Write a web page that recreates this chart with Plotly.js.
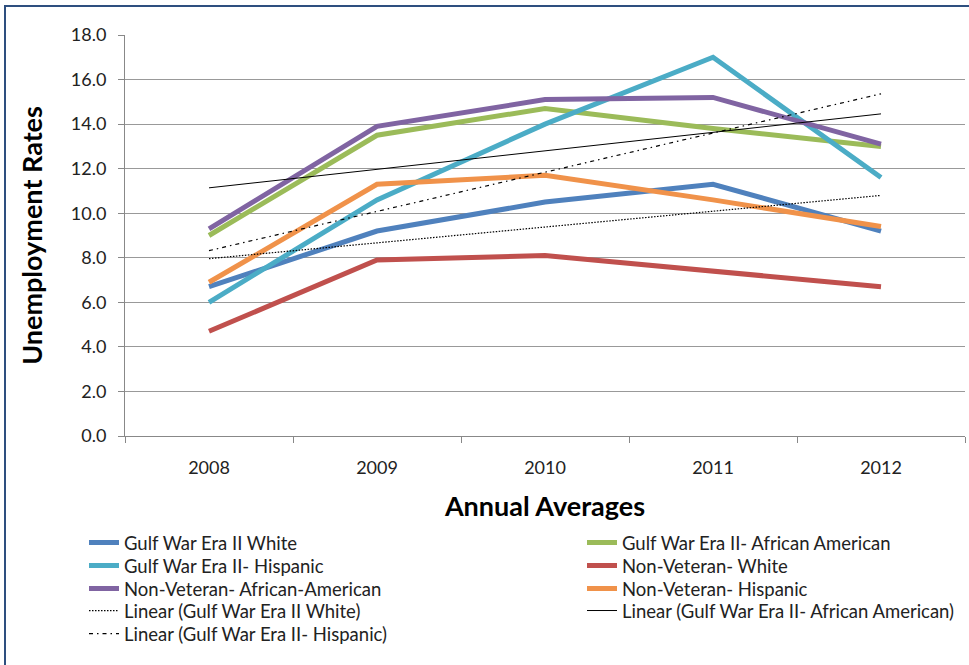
<!DOCTYPE html>
<html>
<head>
<meta charset="utf-8">
<script src="https://cdn.plot.ly/plotly-3.0.1.min.js"></script>
<style>
  html, body { margin: 0; padding: 0; background: #fff; }
  #chart { position: absolute; left: 0; top: 0; width: 969px; height: 665px; }
  #frame { position: absolute; left: 4px; top: 5px; width: 970px; height: 670px;
           border-left: 2px solid #2e4f7f; border-top: 2px solid #2e4f7f; pointer-events: none; }
</style>
</head>
<body>
<div id="chart"></div>
<div id="frame"></div>
<script>
// Annual average unemployment rates (%)
const years = ['2008', '2009', '2010', '2011', '2012'];

const gwWhite      = [6.7, 9.2, 10.5, 11.3, 9.2];
const gwAfricanAm  = [9.0, 13.5, 14.7, 13.8, 13.0];
const gwHispanic   = [6.0, 10.6, 14.0, 17.0, 11.6];
const nvWhite      = [4.7, 7.9, 8.1, 7.4, 6.7];
const nvAfricanAm  = [9.3, 13.9, 15.1, 15.2, 13.1];
const nvHispanic   = [6.9, 11.3, 11.7, 10.6, 9.4];

const yTicks = [0, 2, 4, 6, 8, 10, 12, 14, 16, 18];

// least-squares straight line through a series, evaluated at each year index
function linearFit(vals) {
  const n = vals.length;
  const xs = vals.map((_, i) => i + 1);
  const mx = xs.reduce((a, b) => a + b, 0) / n;
  const my = vals.reduce((a, b) => a + b, 0) / n;
  let sxy = 0, sxx = 0;
  for (let i = 0; i < n; i++) { sxy += (xs[i] - mx) * (vals[i] - my); sxx += (xs[i] - mx) ** 2; }
  const slope = sxy / sxx;
  return xs.map(x => my + slope * (x - mx));
}

const font = 'Lato, "Open Sans", sans-serif';

function series(name, y, color) {
  return { type: 'scatter', mode: 'lines', name, x: years, y,
           line: { color, width: 5 }, hoverinfo: 'name+y' };
}
function trend(name, y, dash, width) {
  return { type: 'scatter', mode: 'lines', name, x: years, y,
           line: { color: '#000', width, dash }, hoverinfo: 'name+y' };
}

const traces = [
  series('Gulf War Era II White', gwWhite, '#4f81bd'),
  series('Gulf War Era II- African American', gwAfricanAm, '#9bbb59'),
  series('Gulf War Era II- Hispanic', gwHispanic, '#4bacc6'),
  series('Non-Veteran- White', nvWhite, '#c0504d'),
  series('Non-Veteran- African-American', nvAfricanAm, '#8064a2'),
  series('Non-Veteran- Hispanic', nvHispanic, '#f0924a'),
  trend('Linear (Gulf War Era II White)', linearFit(gwWhite), '1.5px,1.5px', 1.2),
  trend('Linear (Gulf War Era II- African American)', linearFit(gwAfricanAm), 'solid', 1),
  trend('Linear (Gulf War Era II- Hispanic)', linearFit(gwHispanic), '4px,4px,1.5px,4px', 1.2)
];

// Key laid out as a two-column grid filled row by row; each entry gets its own
// legend box so the row pitch stays tight.
const plotTop = 35, plotBottom = 436, plotLeft = 125, plotWidth = 840;
const keyColumnsPx = [84, 582];
const keyRowsPx = [543, 566, 589, 611, 634];

const layout = {
  width: 969, height: 665,
  margin: { l: plotLeft, r: 4, t: plotTop, b: 665 - plotBottom },
  paper_bgcolor: '#fff', plot_bgcolor: '#fff',
  font: { family: font, size: 16, color: '#000' },
  showlegend: true,
  xaxis: {
    type: 'category', range: [-0.5, 4.5], fixedrange: true,
    tickson: 'boundaries', ticks: 'outside', ticklen: 6, tickcolor: '#888',
    showline: true, linecolor: '#888', linewidth: 1, showgrid: false,
    ticklabelstandoff: 15,
    tickfont: { family: font, size: 18, color: '#222' },
    title: { text: 'Annual Averages', standoff: 20,
             font: { family: font, size: 27, color: '#000', weight: 'bold' } }
  },
  yaxis: {
    range: [0, 18], tickvals: yTicks, tickformat: '.1f', fixedrange: true,
    ticks: 'outside', ticklen: 6, tickcolor: '#888',
    showline: true, linecolor: '#888', linewidth: 1,
    showgrid: true, gridcolor: '#999', gridwidth: 1, zeroline: false,
    ticklabelstandoff: 8,
    tickfont: { family: font, size: 18, color: '#222' },
    title: { text: 'Unemployment Rates', standoff: 20,
             font: { family: font, size: 27, color: '#000', weight: 'bold' } }
  }
};

traces.forEach((tr, i) => {
  const key = i === 0 ? 'legend' : 'legend' + (i + 1);
  tr.legend = key;
  const col = i % 2, row = Math.floor(i / 2);
  layout[key] = {
    orientation: 'v', xanchor: 'left', yanchor: 'middle',
    x: (keyColumnsPx[col] - plotLeft) / plotWidth,
    y: (plotBottom - keyRowsPx[row]) / (plotBottom - plotTop),
    itemwidth: 30, bgcolor: 'rgba(0,0,0,0)',
    font: { family: font, size: 18.5, color: '#222' }
  };
});

Plotly.newPlot('chart', traces, layout, { displayModeBar: false, staticPlot: true });
</script>
</body>
</html>
